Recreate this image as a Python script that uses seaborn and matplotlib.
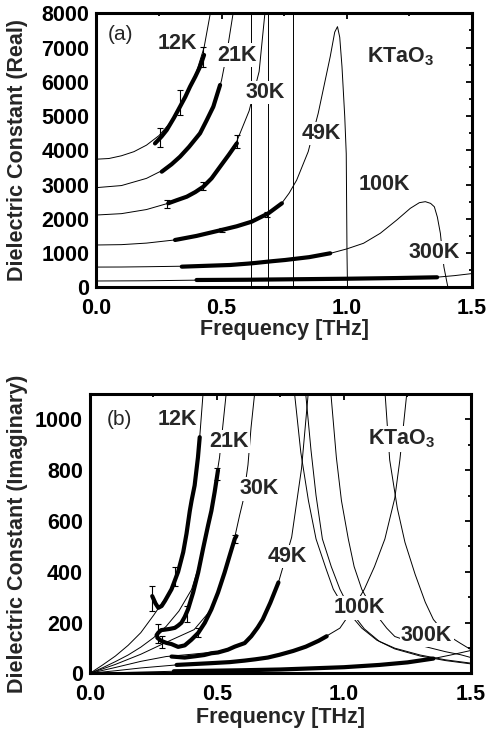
import matplotlib
matplotlib.use('Agg')
import matplotlib.pyplot as plt
from matplotlib.ticker import MultipleLocator, FormatStrFormatter
import seaborn as sns

# ---------------- Panel (a): real part ----------------
# thin model curves (freq THz, value)
re12_fit_f = [0, 0.05, 0.10, 0.15, 0.20, 0.25, 0.30, 0.35, 0.40, 0.43, 0.455, 0.47]
re12_fit_v = [3740, 3760, 3840, 3960, 4150, 4430, 4850, 5450, 6300, 7000, 8000, 8700]
re21_fit_f = [0, 0.10, 0.20, 0.26, 0.33, 0.41, 0.47, 0.50, 0.52, 0.546, 0.56]
re21_fit_v = [2910, 2970, 3180, 3400, 3790, 4450, 5250, 6050, 6800, 8000, 8800]
re30_fit_f = [0, 0.10, 0.20, 0.29, 0.36, 0.43, 0.49, 0.56, 0.61, 0.65, 0.673, 0.69]
re30_fit_v = [2110, 2150, 2270, 2460, 2660, 2960, 3450, 4250, 5150, 6300, 8000, 9000]
re49_fit_f = [0, 0.10, 0.20, 0.31, 0.40, 0.50, 0.60, 0.69, 0.74, 0.77, 0.80, 0.846, 0.886,
              0.934, 0.952, 0.963, 0.972, 0.981, 0.992, 0.998, 1.001, 1.004]
re49_fit_v = [1235, 1245, 1290, 1380, 1500, 1670, 1880, 2170, 2450, 2750, 3130, 3960, 5080,
              6735, 7450, 7610, 7300, 6440, 4985, 3900, 1000, -500]
re100_fit_f = [0, 0.10, 0.20, 0.34, 0.49, 0.62, 0.75, 0.85, 0.934, 1.0, 1.067, 1.134, 1.20,
               1.254, 1.29, 1.314, 1.335, 1.35, 1.362, 1.374, 1.388, 1.40, 1.41]
re100_fit_v = [590, 592, 600, 615, 651, 730, 800, 880, 990, 1120, 1285, 1577, 1965,
               2306, 2470, 2500, 2450, 2350, 2050, 1577, 600, 150, -200]
re300_fit_f = [0, 0.2, 0.4, 0.6, 0.8, 1.0, 1.2, 1.36, 1.43, 1.5]
re300_fit_v = [184, 190, 208, 220, 235, 250, 270, 295, 340, 400]
re_resonance_f = [0.618, 0.686, 0.786]   # steep passes through the plot at resonance

# thick measured curves
re12_dat_f = [0.234, 0.26, 0.281, 0.31, 0.334, 0.355, 0.374, 0.395, 0.414, 0.43]
re12_dat_v = [4200, 4400, 4593, 4950, 5274, 5560, 5858, 6150, 6442, 6783]
re21_dat_f = [0.261, 0.30, 0.334, 0.37, 0.414, 0.44, 0.467, 0.494]
re21_dat_v = [3375, 3590, 3813, 4100, 4496, 4870, 5273, 5907]
re30_dat_f = [0.287, 0.32, 0.361, 0.395, 0.427, 0.46, 0.494, 0.53, 0.561]
re30_dat_v = [2452, 2540, 2645, 2780, 2937, 3180, 3521, 3880, 4204]
re49_dat_f = [0.314, 0.40, 0.50, 0.56, 0.62, 0.687, 0.741]
re49_dat_v = [1381, 1500, 1673, 1780, 1915, 2160, 2452]
re100_dat_f = [0.341, 0.45, 0.534, 0.621, 0.70, 0.754, 0.85, 0.934]
re100_dat_v = [602, 630, 651, 700, 760, 797, 880, 993]
re300_dat_f = [0.40, 0.60, 0.80, 1.0, 1.2, 1.361]
re300_dat_v = [213, 220, 235, 250, 270, 292]

# error bars (a)
re_err_f = [0.253, 0.334, 0.427, 0.281, 0.427, 0.563, 0.50, 0.68]
re_err_v = [4370, 5400, 6730, 2430, 2950, 4250, 1670, 2130]
re_err_e = [270, 365, 290, 120, 110, 195, 60, 75]

# ---------------- Panel (b): imaginary part ----------------
im12_fit_f = [0, 0.05, 0.10, 0.15, 0.20, 0.25, 0.30, 0.33, 0.36, 0.39, 0.412, 0.432, 0.445, 0.455]
im12_fit_v = [0, 33, 68, 110, 160, 228, 300, 350, 440, 600, 740, 930, 1100, 1250]
im21_fit_f = [0, 0.05, 0.10, 0.15, 0.20, 0.25, 0.30, 0.35, 0.40, 0.44, 0.48, 0.51, 0.536, 0.545]
im21_fit_v = [0, 22, 46, 72, 103, 140, 185, 245, 330, 460, 660, 850, 1100, 1200]
im30_fit_f = [0, 0.10, 0.20, 0.30, 0.41, 0.478, 0.53, 0.57, 0.589, 0.602, 0.622, 0.634, 0.648, 0.655]
im30_fit_v = [0, 35, 75, 122, 172, 252, 397, 536, 622, 676, 821, 967, 1100, 1180]
im49_fit_f = [0, 0.10, 0.20, 0.30, 0.40, 0.50, 0.60, 0.65, 0.70, 0.742, 0.794, 0.833, 0.859, 0.87]
im49_fit_v = [0, 23, 47, 66, 75, 85, 112, 160, 255, 358, 536, 808, 1100, 1200]
im100_fit_f = [0, 0.10, 0.20, 0.34, 0.48, 0.60, 0.70, 0.80, 0.90, 0.984, 1.03, 1.08, 1.12,
               1.161, 1.20, 1.22, 1.247, 1.255]
im100_fit_v = [0, 10, 21, 33, 40, 49, 62, 85, 128, 178, 245, 331, 420, 529, 690, 840, 1100, 1200]
im300_fit_f = [0, 0.33, 0.60, 0.75, 1.0, 1.14, 1.25, 1.352, 1.42, 1.5]
im300_fit_v = [0, 8, 12, 15, 24, 33, 43, 58, 72, 90]
# high-frequency tails of the loss peaks
im12_tail_f = [0.795, 0.83, 0.86, 0.89, 0.93, 0.958, 1.00, 1.07, 1.13, 1.20, 1.30, 1.40, 1.5]
im12_tail_v = [1200, 870, 680, 529, 410, 331, 260, 178, 130, 99, 72, 53, 40]
im21_tail_f = [0.84, 0.87, 0.89, 0.915, 0.95, 0.984, 1.03, 1.08, 1.14, 1.20, 1.30, 1.40, 1.5]
im21_tail_v = [1200, 880, 700, 529, 420, 331, 240, 175, 125, 96, 68, 50, 37]
im30_tail_f = [0.94, 0.97, 0.99, 1.017, 1.04, 1.07, 1.12, 1.168, 1.20, 1.30, 1.40, 1.46, 1.5]
im30_tail_v = [1200, 850, 680, 529, 420, 331, 240, 178, 145, 110, 85, 73, 62]
im49_tail_f = [1.155, 1.18, 1.21, 1.24, 1.28, 1.32, 1.352, 1.40, 1.457, 1.5]
im49_tail_v = [1200, 840, 650, 516, 390, 280, 212, 155, 119, 93]

im12_dat_f = [0.245, 0.258, 0.269, 0.282, 0.295, 0.321, 0.347, 0.367, 0.38, 0.393, 0.40, 0.412, 0.425, 0.432]
im12_dat_v = [304, 275, 258, 265, 285, 331, 400, 477, 550, 640, 680, 740, 850, 930]
im21_dat_f = [0.262, 0.269, 0.28, 0.295, 0.315, 0.334, 0.347, 0.36, 0.373, 0.386, 0.406,
              0.426, 0.445, 0.465, 0.478, 0.491, 0.504]
im21_dat_v = [150, 160, 170, 172, 175, 179, 188, 199, 222, 252, 318, 397, 490, 583, 640, 715, 800]
im30_dat_f = [0.265, 0.28, 0.30, 0.321, 0.347, 0.373, 0.399, 0.426, 0.452, 0.478, 0.504,
              0.53, 0.55, 0.57, 0.576]
im30_dat_v = [140, 128, 120, 115, 104, 110, 132, 159, 199, 252, 318, 397, 464, 530, 540]
im49_dat_f = [0.321, 0.373, 0.413, 0.45, 0.478, 0.504, 0.543, 0.57, 0.609, 0.635, 0.66, 0.68, 0.71, 0.742]
im49_dat_v = [66, 62, 67, 72, 79, 82, 93, 105, 119, 146, 180, 212, 278, 358]
im100_dat_f = [0.341, 0.40, 0.478, 0.55, 0.609, 0.65, 0.70, 0.746, 0.80, 0.85, 0.90, 0.932]
im100_dat_v = [33, 36, 40, 44, 50, 55, 62, 73, 88, 105, 128, 146]
im300_dat_f = [0.33, 0.60, 0.75, 1.0, 1.14, 1.25, 1.352]
im300_dat_v = [8, 12, 15, 24, 33, 43, 58]

im_err_f = [0.245, 0.336, 0.269, 0.38, 0.50, 0.282, 0.426, 0.57]
im_err_v = [295, 380, 158, 233, 785, 122, 161, 530]
im_err_e = [50, 38, 38, 32, 25, 24, 18, 15]

# labels
temp_labels = ['12K', '21K', '30K', '49K', '100K', '300K']
re_label_f = [0.322, 0.562, 0.674, 0.90, 1.15, 1.35]
re_label_v = [7120, 6780, 5690, 4490, 2987, 1016]
im_label_f = [0.343, 0.547, 0.665, 0.778, 1.061, 1.325]
im_label_v = [1001, 913, 727, 460, 258, 150]

# ---------------- style ----------------
sns.set_theme(style='white')
plt.rcParams['font.family'] = ['Liberation Sans', 'DejaVu Sans']
plt.rcParams.update({
    'font.weight': 'bold',
    'axes.labelweight': 'bold',
    'mathtext.fontset': 'custom',
    'mathtext.rm': 'Liberation Sans:bold',
    'mathtext.default': 'rm',
    'axes.edgecolor': 'black',
    'axes.linewidth': 2.2,
    'xtick.color': 'black',
    'ytick.color': 'black',
})

FS = 15.5
fig = plt.figure(figsize=(4.87, 7.34), dpi=100)
axa = fig.add_axes([0.198, 0.6086, 0.771, 0.3733])
axb = fig.add_axes([0.1848, 0.0827, 0.7823, 0.3805])

def line(ax, f, v, lw):
    sns.lineplot(x=f, y=v, ax=ax, color='black', linewidth=lw, sort=False,
                 estimator=None, legend=False)

THIN, THICK = 0.7, 3.0

# panel a
for f, v in [(re12_fit_f, re12_fit_v), (re21_fit_f, re21_fit_v), (re30_fit_f, re30_fit_v),
             (re49_fit_f, re49_fit_v), (re100_fit_f, re100_fit_v), (re300_fit_f, re300_fit_v)]:
    line(axa, f, v, THIN)
for fr in re_resonance_f:
    axa.axvline(fr, color='black', linewidth=THIN)
for f, v in [(re12_dat_f, re12_dat_v), (re21_dat_f, re21_dat_v), (re30_dat_f, re30_dat_v),
             (re49_dat_f, re49_dat_v), (re100_dat_f, re100_dat_v), (re300_dat_f, re300_dat_v)]:
    line(axa, f, v, THICK)
axa.errorbar(re_err_f, re_err_v, yerr=re_err_e, fmt='none', ecolor='black',
             elinewidth=0.8, capsize=2.5, capthick=0.8)

# panel b
for f, v in [(im12_fit_f, im12_fit_v), (im21_fit_f, im21_fit_v), (im30_fit_f, im30_fit_v),
             (im49_fit_f, im49_fit_v), (im100_fit_f, im100_fit_v), (im300_fit_f, im300_fit_v),
             (im12_tail_f, im12_tail_v), (im21_tail_f, im21_tail_v), (im30_tail_f, im30_tail_v),
             (im49_tail_f, im49_tail_v)]:
    line(axb, f, v, THIN)
for f, v in [(im12_dat_f, im12_dat_v), (im21_dat_f, im21_dat_v), (im30_dat_f, im30_dat_v),
             (im49_dat_f, im49_dat_v), (im100_dat_f, im100_dat_v), (im300_dat_f, im300_dat_v)]:
    line(axb, f, v, THICK)
axb.errorbar(im_err_f, im_err_v, yerr=im_err_e, fmt='none', ecolor='black',
             elinewidth=0.8, capsize=2.5, capthick=0.8)

box = dict(facecolor='white', edgecolor='none', pad=1.0)
for ax, lf, lv in [(axa, re_label_f, re_label_v), (axb, im_label_f, im_label_v)]:
    for t, x, y in zip(temp_labels, lf, lv):
        ax.text(x, y, t, fontsize=FS, fontweight='bold', ha='center', va='center',
                bbox=box, zorder=5)

axa.text(1.214, 6724, 'KTaO$_3$', fontsize=FS, ha='center', va='center', bbox=box, zorder=5)
axb.text(1.228, 923, 'KTaO$_3$', fontsize=FS, ha='center', va='center', bbox=box, zorder=5)
axa.text(0.096, 7380, '(a)', fontsize=FS - 0.5, fontweight='normal', ha='center', va='center')
axb.text(0.116, 1001, '(b)', fontsize=FS - 0.5, fontweight='normal', ha='center', va='center')

# axes formatting
axa.set_xlim(0, 1.5)
axa.set_ylim(0, 8000)
axb.set_xlim(0, 1.5)
axb.set_ylim(0, 1100)
axa.yaxis.set_major_locator(MultipleLocator(1000))
axa.yaxis.set_minor_locator(MultipleLocator(500))
axb.yaxis.set_major_locator(MultipleLocator(200))
axb.yaxis.set_minor_locator(MultipleLocator(100))

for ax, yl in [(axa, 'Dielectric Constant (Real)'), (axb, 'Dielectric Constant (Imaginary)')]:
    ax.xaxis.set_major_locator(MultipleLocator(0.5))
    ax.xaxis.set_minor_locator(MultipleLocator(0.25))
    ax.xaxis.set_major_formatter(FormatStrFormatter('%.1f'))
    ax.tick_params(which='both', direction='in', top=True, right=True, width=1.3,
                   labelsize=FS, colors='black')
    ax.tick_params(which='major', length=4.5)
    ax.tick_params(which='minor', length=2.3)
    ax.tick_params(axis='x', pad=8)
    ax.tick_params(axis='y', pad=5)
    for lab in ax.get_xticklabels() + ax.get_yticklabels():
        lab.set_fontweight('bold')
    for sp in ax.spines.values():
        sp.set_linewidth(2.2)
        sp.set_color('black')
    ax.set_xlabel('Frequency [THz]', fontsize=FS, fontweight='bold')
    ax.set_ylabel(yl, fontsize=FS, fontweight='bold')

axa.yaxis.set_label_coords(-0.182, 0.5)
axa.xaxis.set_label_coords(0.5, -0.115)
axb.yaxis.set_label_coords(-0.163, 0.5)
axb.xaxis.set_label_coords(0.5, -0.12)

fig.savefig('out.png', dpi=100)
